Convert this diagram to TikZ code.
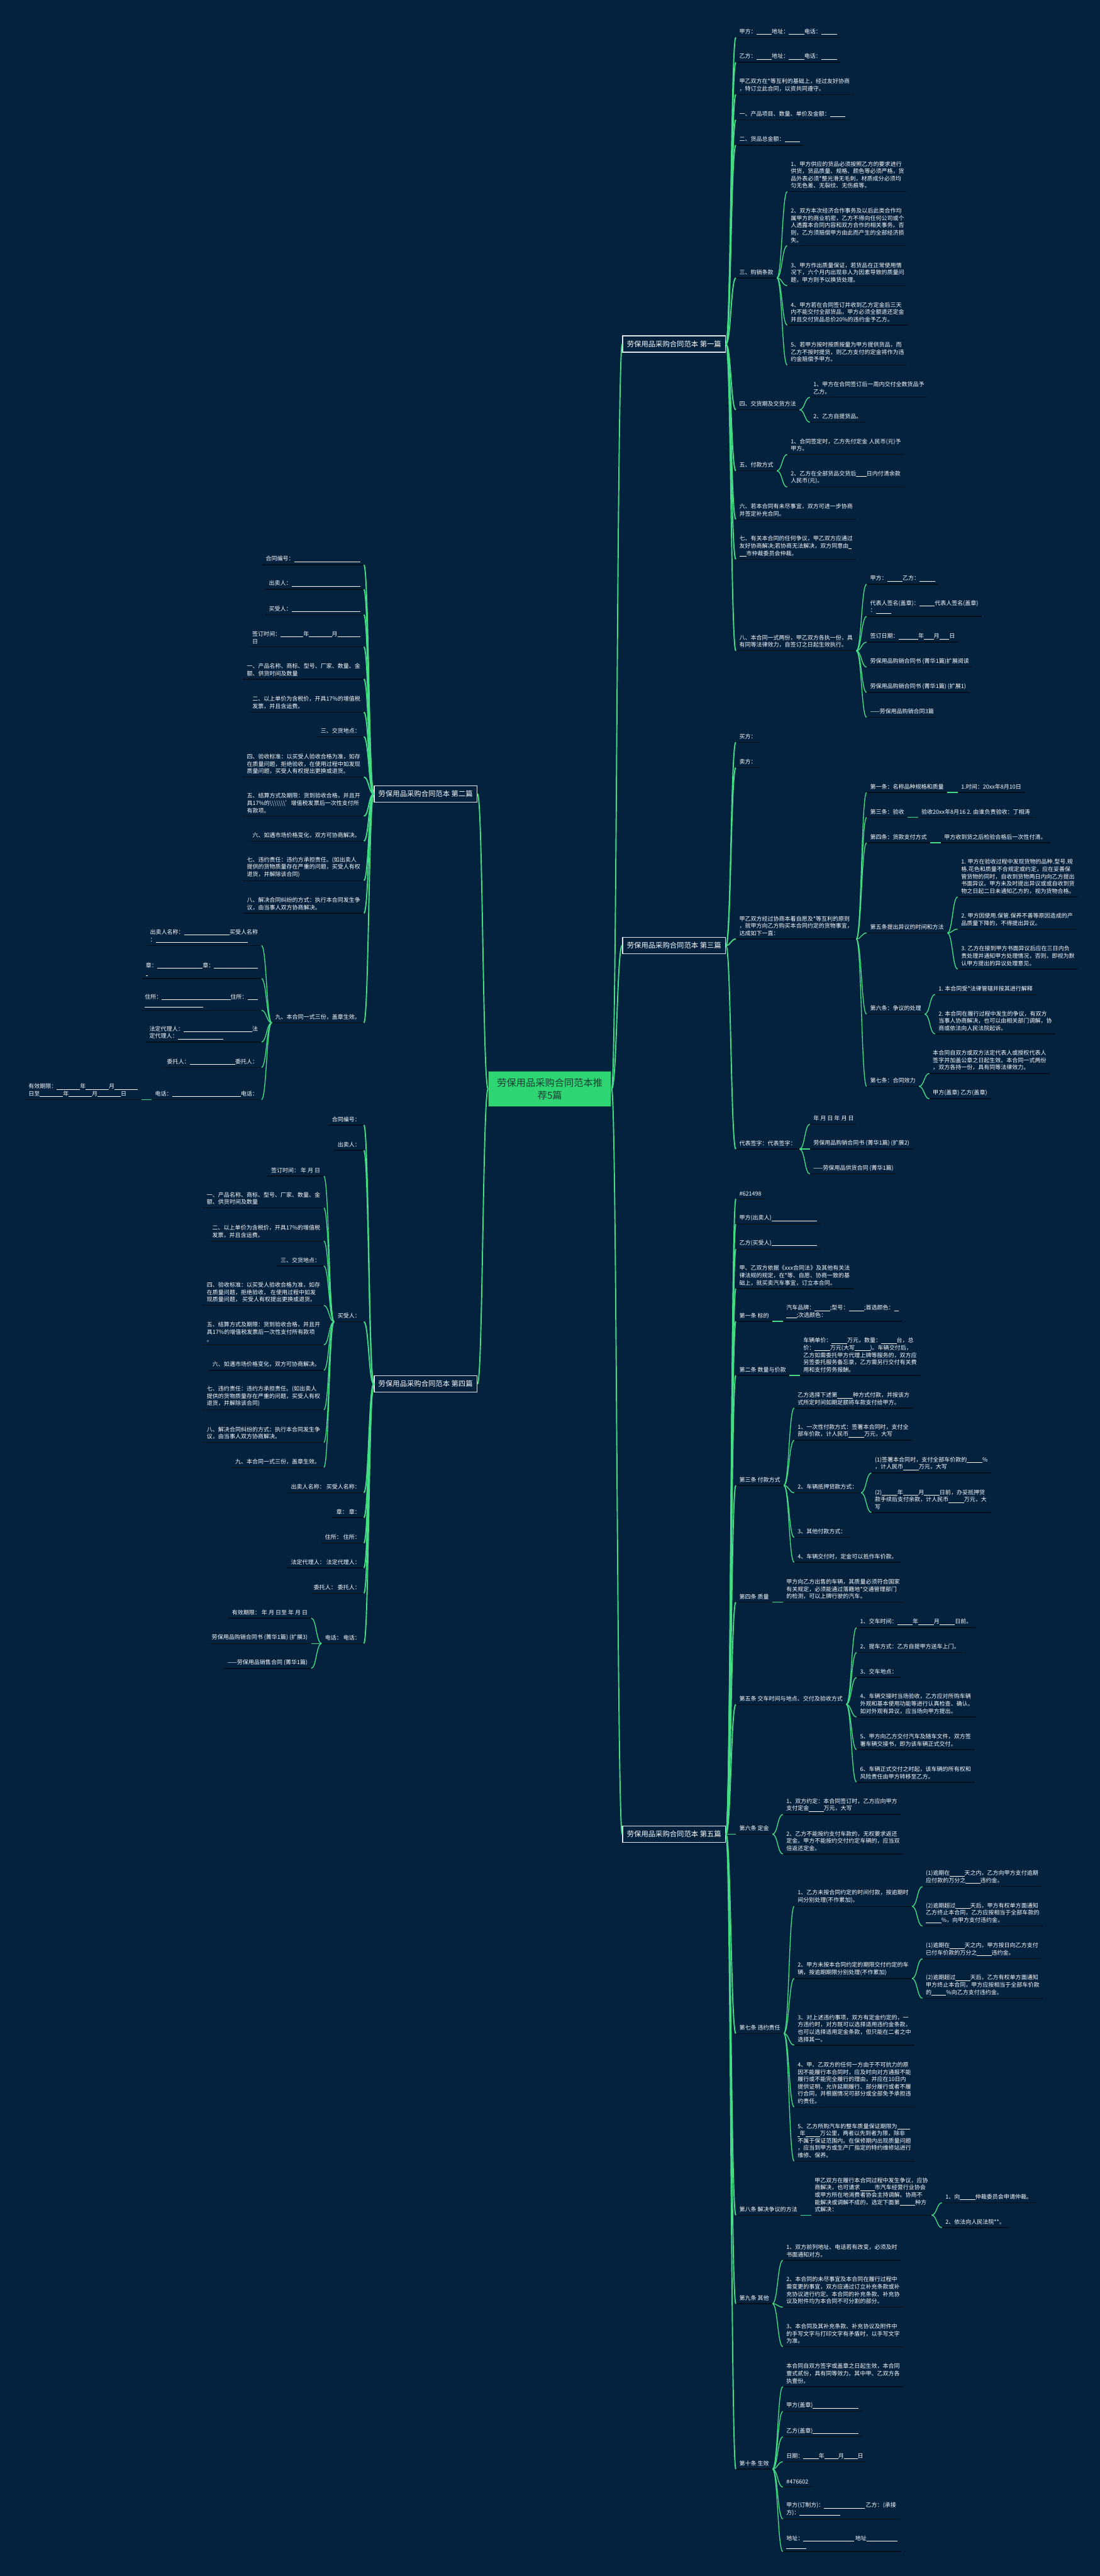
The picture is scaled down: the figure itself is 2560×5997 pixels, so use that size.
\documentclass[tikz,border=0pt]{standalone}
\usepackage{fontspec}
\setmainfont{Noto Sans CJK SC}
\usetikzlibrary{calc}
\definecolor{bg}{HTML}{04213E}
\definecolor{grn}{HTML}{44DD85}
\definecolor{uln}{HTML}{020E1A}
\definecolor{rootfill}{HTML}{2ED573}
\definecolor{roottext}{HTML}{1B3B34}
\definecolor{rootedge}{HTML}{155A35}
\newcommand\bk[1]{\rule[-2pt]{#1pt}{0.7pt}}
\newcommand\bs{\textbackslash}
\tikzset{
 leaf/.style={text=white, font=\fontsize{13.2pt}{17pt}\selectfont, inner xsep=8pt, inner ysep=7pt, align=left},
 uline/.style={draw=uln, line width=2pt},
 conn/.style={draw=grn, line width=2pt},
 connA/.style={draw=grn, line width=2.8pt},
 secbox/.style={draw=white!88!bg, line width=2pt, fill=bg, text=white, font=\fontsize{16.6pt}{20pt}\selectfont, inner xsep=10pt, minimum height=38pt},
 rootbox/.style={fill=rootfill, draw=rootedge, line width=1.5pt, text=roottext, font=\fontsize{22.3pt}{30pt}\selectfont, align=center, minimum width=286pt, minimum height=83pt},
}
\newcommand\cn[3][conn]{\draw[#1] let \p1=(#2), \p2=(#3) in (\p1) .. controls ({0.5*\x1+0.5*\x2},\y1) and ({0.5*\x1+0.5*\x2},\y2) .. (\p2);}
\newcommand\RT[4]{\node[leaf,anchor=south west] (#1) at (#2,#3) {#4};\draw[uline] (#1.south west) -- (#1.south east);}
\newcommand\LT[4]{\node[leaf,anchor=south east] (#1) at (#2,#3) {#4};\draw[uline] (#1.south west) -- (#1.south east);}
\newcommand\RK[4]{\path (#2.south east) ++(24,0) coordinate (tmp);\coordinate (yy) at (0,#3);\node[leaf,anchor=south west] (#1) at (tmp |- yy) {#4};\draw[uline] (#1.south west) -- (#1.south east);\cn{#2.south east}{#1.south west}}
\newcommand\LK[4]{\path (#2.south west) ++(-24,0) coordinate (tmp);\coordinate (yy) at (0,#3);\node[leaf,anchor=south east] (#1) at (tmp |- yy) {#4};\draw[uline] (#1.south west) -- (#1.south east);\cn{#2.south west}{#1.south east}}
\begin{document}
\begin{tikzpicture}[x=1pt,y=-1pt]
\useasboundingbox (0,0) rectangle (2560,5997);
\fill[bg] (0,0) rectangle (2560,5997);
% root and sections
\node[rootbox] (root) at (1280,2535) {劳保用品采购合同范本推\\荐5篇};
\node[secbox,anchor=east] (b1) at (1690,801) {劳保用品采购合同范本 第一篇};
\node[secbox,anchor=west] (b2) at (870,1848) {劳保用品采购合同范本 第二篇};
\node[secbox,anchor=east] (b3) at (1690,2201) {劳保用品采购合同范本 第三篇};
\node[secbox,anchor=west] (b4) at (870,3222) {劳保用品采购合同范本 第四篇};
\node[secbox,anchor=east] (b5) at (1690,4270) {劳保用品采购合同范本 第五篇};
\cn[connA]{root.east}{b1.west}
\cn[connA]{root.east}{b3.west}
\cn[connA]{root.east}{b5.west}
\cn[connA]{root.west}{b2.east}
\cn[connA]{root.west}{b4.east}
% ---------- section 1
\RT{a1}{1713}{87}{甲方：\bk{36}地址：\bk{36}电话：\bk{36}}
\RT{a2}{1713}{145}{乙方：\bk{36}地址：\bk{36}电话：\bk{36}}
\RT{a3}{1713}{220}{甲乙双方在*等互利的基础上，经过友好协商\\，特订立此合同，以资共同遵守。}
\RT{a4}{1713}{279}{一、产品项目、数量、单价及金额：\bk{36}}
\RT{a5}{1713}{338}{二、货品总金额：\bk{36}}
\RT{a6}{1713}{647}{三、购销条款}
\RT{a7}{1713}{954}{四、交货期及交货方法}
\RT{a8}{1713}{1096}{五、付款方式}
\RT{a9}{1713}{1209}{六、若本合同有未尽事宜，双方可进一步协商\\并签定补充合同。}
\RT{a10}{1713}{1302}{七、有关本合同的任何争议，甲乙双方应通过\\友好协商解决;若协商无法解决，双方同意由\bk{7}\\\bk{16}市仲裁委员会仲裁。}
\RT{a11}{1713}{1515}{八、本合同一式两份，甲乙双方各执一份，具\\有同等法律效力，自签订之日起生效执行。}
\foreach \k in {a1,a2,a3,a4,a5,a6,a7,a8,a9,a10,a11} {\cn[connA]{b1.east}{\k.south west}}
\RK{a6a}{a6}{446}{1、甲方供应的货品必须按照乙方的要求进行\\供货，货品质量、规格、颜色等必须严格，货\\品外表必须*整光滑无毛刺，材质成分必须均\\匀无色差、无裂纹、无伤痕等。}
\RK{a6b}{a6}{572}{2、双方本次经济合作事务及以后此类合作均\\属甲方的商业机密，乙方不得向任何公司或个\\人透露本合同内容和双方合作的相关事务。否\\则，乙方须赔偿甲方由此而产生的全部经济损\\失。}
\RK{a6c}{a6}{665}{3、甲方作出质量保证，若货品在正常使用情\\况下，六个月内出现非人为因素导致的质量问\\题，甲方则予以换货处理。}
\RK{a6d}{a6}{757}{4、甲方若在合同签订并收到乙方定金后三天\\内不能交付全部货品，甲方必须全额退还定金\\并且交付货品总价20\%的违约金予乙方。}
\RK{a6e}{a6}{850}{5、若甲方按时按质按量为甲方提供货品，而\\乙方不按时提货，则乙方支付的定金将作为违\\约金赔偿予甲方。}
\RK{a7a}{a7}{925}{1、甲方在合同签订后一周内交付全数货品予\\乙方。}
\RK{a7b}{a7}{983}{2、乙方自提货品。}
\RK{a8a}{a8}{1058}{1、合同签定时，乙方先付定金 人民币(元)予\\甲方。}
\RK{a8b}{a8}{1134}{2、乙方在全部货品交货后\bk{24}日内付清余款\\人民币(元)。}
\RK{a11a}{a11}{1360}{甲方：\bk{36}乙方：\bk{36}}
\RK{a11b}{a11}{1435}{代表人签名(盖章)：\bk{36}代表人签名(盖章)\\：\bk{36}}
\RK{a11c}{a11}{1495}{签订日期：\bk{46}年\bk{23}月\bk{23}日}
\RK{a11d}{a11}{1553}{劳保用品购销合同书 (菁华1篇)扩展阅读}
\RK{a11e}{a11}{1612}{劳保用品购销合同书 (菁华1篇) (扩展1)}
\RK{a11f}{a11}{1670}{——劳保用品购销合同3篇}
% ---------- section 3
\RT{c1}{1713}{1728}{买方：}
\RT{c2}{1713}{1787}{卖方：}
\RT{c3}{1713}{2186}{甲乙双方经过协商本着自愿及*等互利的原则\\，就甲方向乙方购买本合同约定的货物事宜，\\达成如下一直：}
\RT{c4}{1713}{2675}{代表签字：代表签字：}
\foreach \k in {c1,c2,c3,c4} {\cn[connA]{b3.east}{\k.south west}}
\RK{d1}{c3}{1845}{第一条：名称品种规格和质量}
\RK{d2}{c3}{1903}{第三条：验收}
\RK{d3}{c3}{1962}{第四条：货款支付方式}
\RK{d4}{c3}{2172}{第五条提出异议的时间和方法}
\RK{d5}{c3}{2361}{第六条：争议的处理}
\RK{d6}{c3}{2529}{第七条：合同效力}
\RK{e1}{d1}{1845}{1.时间：20xx年8月10日}
\RK{e2}{d2}{1903}{验收20xx年8月16 2. 由谁负责验收：丁相涛}
\RK{e3}{d3}{1962}{甲方收到货之后检验合格后一次性付清。}
\RK{d4a}{d4}{2088}{1. 甲方在验收过程中发现货物的品种.型号.规\\格.花色和质量不合规定或约定，应在妥善保\\管货物的同时，自收到货物两日内向乙方提出\\书面异议。甲方未及时提出异议或或自收到货\\物之日起二日未通知乙方的，视为货物合格。}
\RK{d4b}{d4}{2163}{2. 甲方因使用.保管.保养不善等原因造成的产\\品质量下降的，不得提出异议。}
\RK{d4c}{d4}{2256}{3. 乙方在接到甲方书面异议后应在三日内负\\责处理并通知甲方处理情况，否则，即视为默\\认甲方提出的异议处理意见。}
\RK{d5a}{d5}{2315}{1. 本合同受*法律管辖并按其进行解释}
\RK{d5b}{d5}{2407}{2. 本合同在履行过程中发生的争议，有双方\\当事人协商解决，也可以由相关部门调解，协\\商或依法向人民法院起诉。}
\RK{d6a}{d6}{2499}{本合同自双方或双方法定代表人或授权代表人\\签字并加盖公章之日起生效。本合同一式两份\\，双方各持一份，具有同等法律效力。}
\RK{d6b}{d6}{2558}{甲方(盖章) 乙方(盖章)}
\RK{c4a}{c4}{2617}{年 月 日 年 月 日}
\RK{c4b}{c4}{2675}{劳保用品购销合同书 (菁华1篇) (扩展2)}
\RK{c4c}{c4}{2733}{——劳保用品供货合同 (菁华1篇)}
% ---------- section 5
\RT{f1}{1713}{2791}{\#621498}
\RT{f2}{1713}{2850}{甲方(出卖人)\bk{106}}
\RT{f3}{1713}{2908}{乙方(买受人)\bk{106}}
\RT{f4}{1713}{3000}{甲、乙双方依据《xxx合同法》及其他有关法\\律法规的规定，在*等、自愿、协商一致的基\\础上，就买卖汽车事宜，订立本合同。}
\RT{f5}{1713}{3076}{第一条 标的}
\RT{f6}{1713}{3202}{第二条 数量与价款}
\RT{f7}{1713}{3458}{第三条 付款方式}
\RT{f8}{1713}{3730}{第四条 质量}
\RT{f9}{1713}{3968}{第五条 交车时间与地点、交付及验收方式}
\RT{f10}{1713}{4270}{第六条 定金}
\RT{f11}{1713}{4734}{第七条 违约责任}
\RT{f12}{1713}{5157}{第八条 解决争议的方法}
\RT{f13}{1713}{5363}{第九条 其他}
\RT{f14}{1713}{5748}{第十条 生效}
\foreach \k in {f1,f2,f3,f4,f5,f6,f7,f8,f9,f10,f11,f12,f13,f14} {\cn[connA]{b5.east}{\k.south west}}
\RK{f5a}{f5}{3076}{汽车品牌：\bk{36};型号：\bk{36};首选颜色：\bk{10}\\\bk{24};次选颜色：}
\RK{f6a}{f6}{3202}{车辆单价：\bk{36}万元，数量：\bk{36}台，总\\价：\bk{36}万元(大写\bk{36})。车辆交付后，\\乙方如需委托甲方代理上牌等服务的，双方应\\另签委托服务备忘录，乙方需另行交付有关费\\用和支付劳务报酬。}
\RK{f7a}{f7}{3278}{乙方选择下述第\bk{36}种方式付款，并按该方\\式所定时间如期足额将车款支付给甲方。}
\RK{f7b}{f7}{3353}{1、一次性付款方式：签署本合同时，支付全\\部车价款，计人民币\bk{36}万元，大写}
\RK{f7c}{f7}{3475}{2、车辆抵押贷款方式：}
\RK{f7d}{f7}{3579}{3、其他付款方式：}
\RK{f7e}{f7}{3637}{4、车辆交付时，定金可以抵作车价款。}
\RK{f7c1}{f7c}{3429}{(1)签署本合同时，支付全部车价款的\bk{36}\%\\，计人民币\bk{36}万元，大写}
\RK{f7c2}{f7c}{3521}{(2)\bk{36}年\bk{36}月\bk{36}日前，办妥抵押贷\\款手续后支付余款，计人民币\bk{36}万元，大\\写}
\RK{f8a}{f8}{3730}{甲方向乙方出售的车辆，其质量必须符合国家\\有关规定，必须能通过落籍地*交通管理部门\\的检测，可以上牌行驶的汽车。}
\RK{f9a}{f9}{3789}{1、交车时间：\bk{36}年\bk{36}月\bk{36}日前。}
\RK{f9b}{f9}{3847}{2、提车方式：乙方自提甲方送车上门。}
\RK{f9c}{f9}{3905}{3、交车地点：}
\RK{f9d}{f9}{3997}{4、车辆交接时当场验收，乙方应对所购车辆\\外观和基本使用功能等进行认真检查、确认。\\如对外观有异议，应当场向甲方提出。}
\RK{f9e}{f9}{4073}{5、甲方向乙方交付汽车及随车文件，双方签\\署车辆交接书，即为该车辆正式交付。}
\RK{f9f}{f9}{4149}{6、车辆正式交付之时起，该车辆的所有权和\\风险责任由甲方转移至乙方。}
\RK{f10a}{f10}{4224}{1、双方约定：本合同签订时，乙方应向甲方\\支付定金\bk{34}万元，大写}
\RK{f10b}{f10}{4316}{2、乙方不能按约支付车款的，无权要求返还\\定金。甲方不能按约交付约定车辆的，应当双\\倍返还定金。}
\RK{f11a}{f11}{4438}{1、乙方未按合同约定的时间付款，按逾期时\\间分别处理(不作累加)。}
\RK{f11b}{f11}{4606}{2、甲方未按本合同约定的期限交付约定的车\\辆，按逾期期限分别处理(不作累加)}
\RK{f11c}{f11}{4761}{3、对上述违约事项，双方有定金约定的，一\\方违约时，对方既可以选择适用违约金条款，\\也可以选择适用定金条款，但只能在二者之中\\选择其一。}
\RK{f11d}{f11}{4905}{4、甲、乙双方的任何一方由于不可抗力的原\\因不能履行本合同时，应及时向对方通报不能\\履行或不能完全履行的理由，并应在10日内\\提供证明，允许延期履行、部分履行或者不履\\行合同，并根据情况可部分或全部免予承担违\\约责任。}
\RK{f11e}{f11}{5031}{5、乙方所购汽车的整车质量保证期限为\bk{30}\\\bk{5}年\bk{34}万公里，两者以先到者为限，除非\\不属于保证范围内。在保修期内出现质量问题\\，应当到甲方或生产厂指定的特约维修站进行\\维修、保养。}
\RK{f11a1}{f11a}{4392}{(1)逾期在\bk{34}天之内，乙方向甲方支付逾期\\应付款的万分之\bk{34}违约金。}
\RK{f11a2}{f11a}{4484}{(2)逾期超过\bk{34}天后，甲方有权单方面通知\\乙方终止本合同，乙方应按相当于全部车款的\\\bk{36}\%，向甲方支付违约金。}
\RK{f11b1}{f11b}{4560}{(1)逾期在\bk{34}天之内，甲方按日向乙方支付\\已付车价款的万分之\bk{34}违约金。}
\RK{f11b2}{f11b}{4652}{(2)逾期超过\bk{34}天后，乙方有权单方面通知\\甲方终止本合同，甲方应按相当于全部车价款\\的\bk{34}\%向乙方支付违约金。}
\RK{f12a}{f12}{5157}{甲乙双方在履行本合同过程中发生争议，应协\\商解决，也可请求\bk{34}市汽车经营行业协会\\或甲方所在地消费者协会主持调解。协商不\\能解决或调解不成的，选定下面第\bk{36}种方\\式解决：}
\RK{f12a1}{f12a}{5128}{1、向\bk{36}仲裁委员会申请仲裁。}
\RK{f12a2}{f12a}{5186}{2、依法向人民法院**。}
\RK{f13a}{f13}{5262}{1、双方前列地址、电话若有改变，必须及时\\书面通知对方。}
\RK{f13b}{f13}{5371}{2、本合同的未尽事宜及本合同在履行过程中\\需变更的事宜，双方应通过订立补充条款或补\\充协议进行约定。本合同的补充条款、补充协\\议及附件均为本合同不可分割的部分。}
\RK{f13c}{f13}{5463}{3、本合同及其补充条款、补充协议及附件中\\的手写文字与打印文字有矛盾时，以手写文字\\为准。}
\RK{f14a}{f14}{5556}{本合同自双方签字或盖章之日起生效，本合同\\壹式贰份，具有同等效力。其中甲、乙双方各\\执壹份。}
\RK{f14b}{f14}{5614}{甲方(盖章)\bk{106}}
\RK{f14c}{f14}{5673}{乙方(盖章)\bk{106}}
\RK{f14d}{f14}{5731}{日期：\bk{36}年\bk{32}月\bk{32}日}
\RK{f14e}{f14}{5790}{\#476602}
\RK{f14f}{f14}{5864}{甲方(订制方)：\bk{94} 乙方：(承接\\方)：\bk{94}}
\RK{f14g}{f14}{5940}{地址：\bk{118} 地址\bk{72}\\\bk{46}}
% ---------- section 2 (left)
\LT{g1}{847}{1315}{合同编号：\bk{154}}
\LT{g2}{847}{1372}{出卖人：\bk{160}}
\LT{g3}{847}{1431}{买受人：\bk{160}}
\LT{g4}{847}{1506}{签订时间：\bk{53}年\bk{53}月\bk{53}\\日}
\LT{g5}{847}{1581}{一、产品名称、商标、型号、厂家、数量、金\\额、供货时间及数量}
\LT{g6}{847}{1658}{二、以上单价为含税价，开具17\%的增值税\\发票，并且含运费。}
\LT{g7}{847}{1715}{三、交货地点：}
\LT{g8}{847}{1809}{四、验收标准：以买受人验收合格为准，如存\\在质量问题，拒绝验收，在使用过程中如发现\\质量问题，买受人有权提出更换或退货。}
\LT{g9}{847}{1900}{五、结算方式及期限：货到验收合格，并且开\\具17\%的\bs\bs\bs\bs\bs\bs\bs'增值税发票后一次性支付所\\有款项。}
\LT{g10}{847}{1958}{六、如遇市场价格变化，双方可协商解决。}
\LT{g11}{847}{2050}{七、违约责任：违约方承担责任。(如出卖人\\提供的货物质量存在严重的问题，买受人有权\\退货，并解除该合同)}
\LT{g12}{847}{2126}{八、解决合同纠纷的方式：执行本合同发生争\\议，由当事人双方协商解决。}
\LT{g13}{847}{2381}{九、本合同一式三份，盖章生效。}
\foreach \k in {g1,g2,g3,g4,g5,g6,g7,g8,g9,g10,g11,g12,g13} {\cn[connA]{b2.west}{\k.south east}}
\LK{g13a}{g13}{2201}{出卖人名称：\bk{106}买受人名称\\：\bk{214}}
\LK{g13b}{g13}{2278}{章：\bk{106}章：\bk{102}\\\bk{5}}
\LK{g13c}{g13}{2352}{住所：\bk{160}住所：\bk{24}\\\bk{136}}
\LK{g13d}{g13}{2426}{法定代理人：\bk{160}法\\定代理人：\bk{106}}
\LK{g13e}{g13}{2485}{委托人：\bk{106}委托人：}
\LK{g13f}{g13}{2560}{电话：\bk{160}电话：}
\LK{g13f1}{g13f}{2560}{有效期限：\bk{54}年\bk{54}月\bk{54}\\日至\bk{54}年\bk{54}月\bk{54}日}
% ---------- section 4 (left)
\LT{h1}{847}{2619}{合同编号：}
\LT{h2}{847}{2678}{出卖人：}
\LT{h3}{847}{3077}{买受人：}
\LT{h4}{847}{3475}{出卖人名称： 买受人名称：}
\LT{h5}{847}{3533}{章： 章：}
\LT{h6}{847}{3592}{住所： 住所：}
\LT{h7}{847}{3650}{法定代理人： 法定代理人：}
\LT{h8}{847}{3709}{委托人： 委托人：}
\LT{h9}{847}{3826}{电话： 电话：}
\foreach \k in {h1,h2,h3,h4,h5,h6,h7,h8,h9} {\cn[connA]{b4.west}{\k.south east}}
\LK{h3a}{h3}{2738}{签订时间： 年 月 日}
\LK{h3b}{h3}{2812}{一、产品名称、商标、型号、厂家、数量、金\\额、供货时间及数量}
\LK{h3c}{h3}{2889}{二、以上单价为含税价，开具17\%的增值税\\发票，并且含运费。}
\LK{h3d}{h3}{2947}{三、交货地点：}
\LK{h3e}{h3}{3039}{四、验收标准：以买受人验收合格为准，如存\\在质量问题，拒绝验收， 在使用过程中如发\\现质量问题， 买受人有权提出更换或退货。}
\LK{h3f}{h3}{3131}{五、结算方式及期限：货到验收合格，并且开\\具17\%的增值税发票后一次性支付所有款项\\。}
\LK{h3g}{h3}{3190}{六、如遇市场价格变化，双方可协商解决。}
\LK{h3h}{h3}{3282}{七、违约责任：违约方承担责任。(如出卖人\\提供的货物质量存在严重的问题，买受人有权\\退货，并解除该合同)}
\LK{h3i}{h3}{3358}{八、解决合同纠纷的方式：执行本合同发生争\\议，由当事人双方协商解决。}
\LK{h3j}{h3}{3416}{九、本合同一式三份，盖章生效。}
\LK{h9a}{h9}{3767}{有效期限： 年 月 日至 年 月 日}
\LK{h9b}{h9}{3826}{劳保用品购销合同书 (菁华1篇) (扩展3)}
\LK{h9c}{h9}{3884}{——劳保用品销售合同 (菁华1篇)}
\end{tikzpicture}
\end{document}
